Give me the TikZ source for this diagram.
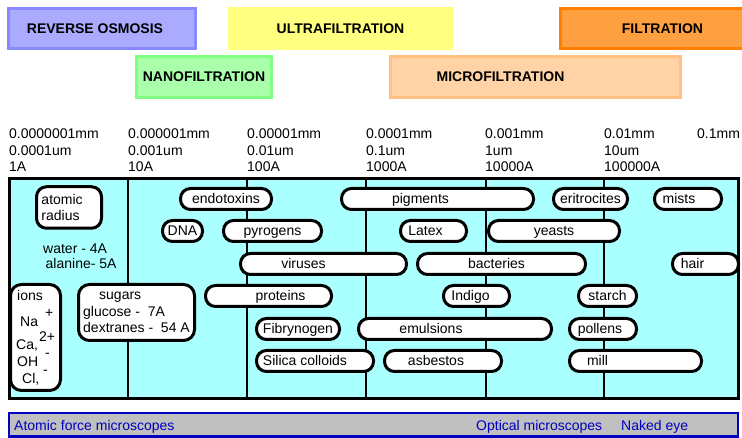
\documentclass[tikz,border=0pt]{standalone}
\usepackage{fontspec}
\setmainfont{Liberation Sans}
\usepackage{xcolor}
\usetikzlibrary{positioning}
\definecolor{chartcyan}{RGB}{170,255,255}
\definecolor{rofill}{RGB}{170,170,255}
\definecolor{roline}{RGB}{136,136,255}
\definecolor{ufyellow}{RGB}{255,255,128}
\definecolor{nffill}{RGB}{170,255,170}
\definecolor{nfline}{RGB}{128,255,128}
\definecolor{mffill}{RGB}{255,211,165}
\definecolor{mfline}{RGB}{255,192,128}
\definecolor{ffill}{RGB}{255,160,64}
\definecolor{fline}{RGB}{255,128,0}
\definecolor{bargray}{RGB}{192,192,192}
\definecolor{barblue}{RGB}{0,0,192}
\tikzset{
	pill/.style = {draw, fill = white, line width = 3pt, rounded corners = 10pt, minimum height = 21pt, inner sep = 0pt, text height = 12.5pt, text depth = 2.5pt},
	roundbox/.style = {draw, fill = white, line width = 3pt, rounded corners = 11pt, inner ysep = 0pt, align = left},
	band/.style = {line width = 3pt, inner sep = 0pt, font = \fontsize{14}{16.5}\selectfont\bfseries},
	divider/.style = {line width = 2.8pt},
	every label/.style = {inner sep = 0pt, text height = 12.5pt, text depth = 2.5pt},
}

\begin{document}
\begin{tikzpicture}[x = 1pt, y = -1pt, font = \fontsize{14}{16.5}\selectfont]
		\useasboundingbox (0, 0) rectangle (742, 438);

		% separation processes
		\node [band, draw = roline, fill = rofill, minimum width = 187, minimum height = 40, label = {[xshift = -7pt, text height = , text depth = , font = \fontsize{14}{16.5}\selectfont\bfseries]center:REVERSE OSMOSIS}] (ro) at (102, 28.5) {};
		\node [band, draw = ufyellow, fill = ufyellow, minimum width = 222, minimum height = 40] (uf) at (340.5, 28.5) {ULTRAFILTRATION};
		\node [band, draw = fline, fill = ffill, minimum width = 204, minimum height = 40] (ff) at (662.5, 28.5) {FILTRATION};
		\node [band, draw = nfline, fill = nffill, minimum width = 135, minimum height = 41] (nf) at (204, 77) {NANOFILTRATION};
		\node [band, draw = mfline, fill = mffill, minimum width = 290, minimum height = 41, label = {[xshift = -35pt, text height = , text depth = , font = \fontsize{14}{16.5}\selectfont\bfseries]center:MICROFILTRATION}] (mf) at (535.5, 77) {};

		% size scale
		\foreach \x/\mm/\um/\ang [count = \i] in {9/0.0000001mm/0.0001um/1A, 128/0.000001mm/0.001um/10A, 247/0.00001mm/0.01um/100A, 366/0.0001mm/0.1um/1000A, 485/0.001mm/1um/10000A, 604/0.01mm/10um/100000A, 697/0.1mm//} {
			\node [anchor = base west, inner sep = 0pt] (mm\i) at (\x, 139) {\mm};
			\node [anchor = base west, inner sep = 0pt] (um\i) at (\x, 155.5) {\um};
			\node [anchor = base west, inner sep = 0pt] (ang\i) at (\x, 172) {\ang};
		}

		% chart
		\node [draw, fill = chartcyan, line width = 3pt, minimum width = 729.5, minimum height = 220, inner sep = 0pt] (chart) at (373.75, 288.5) {};
		\foreach \x in {128, 247, 366, 486, 604}
			\draw [divider] (chart.north -| \x, 0) -- (chart.south -| \x, 0);

		\node [roundbox, rounded corners = 10pt, minimum height = 41.5, inner xsep = 5pt, text width = 55pt] (atom) at (69, 207.5) {atomic\\radius};
		\node [anchor = base west, inner sep = 0pt] (water) at (43, 254) {water - 4A};
		\node [anchor = base west, inner sep = 0pt] (alanine) at (45.5, 269) {alanine- 5A};

		\node [roundbox, minimum width = 50, minimum height = 106, inner sep = 0pt] (ions) at (35.5, 337.5) {};
		\node [anchor = base west, inner sep = 0pt] (ionslbl) at (17, 301) {ions};
		\node [anchor = base west, inner sep = 0pt] (na) at (20, 326.5) {Na};
		\node [anchor = base west, inner sep = 0pt] (naq) at (45, 317.5) {+};
		\node [anchor = base west, inner sep = 0pt] (ca) at (16, 350) {Ca,};
		\node [anchor = base west, inner sep = 0pt] (caq) at (39, 341.5) {2+};
		\node [anchor = base west, inner sep = 0pt] (oh) at (17, 366.5) {OH};
		\node [anchor = base west, inner sep = 0pt] (ohq) at (45, 357.5) {-};
		\node [anchor = base west, inner sep = 0pt] (cl) at (22, 383.5) {Cl,};
		\node [anchor = base west, inner sep = 0pt] (clq) at (43, 374) {-};

		\node [roundbox, minimum width = 116, minimum height = 56, inner xsep = 2pt] (sugars) at (136.5, 312.5) {\hspace*{16pt}sugars\\glucose - \ 7A\\dextranes - \ 54 A};

		% row 1
		\node [pill, minimum width = 91] (endotoxins) at (226, 199) {endotoxins};
		\node [pill, minimum width = 192, label = {[xshift = -17pt]center:pigments}] (pigments) at (437.5, 199) {};
		\node [pill, minimum width = 74] (eritrocites) at (590.5, 199) {eritrocites};
		\node [pill, minimum width = 67, label = {[xshift = -9pt]center:mists}] (mists) at (688, 199) {};
		% row 2
		\node [pill, minimum width = 40] (dna) at (182.5, 231) {DNA};
		\node [pill, minimum width = 98] (pyrogens) at (272.5, 231) {pyrogens};
		\node [pill, minimum width = 66, label = {[xshift = -8pt]center:Latex}] (latex) at (433.5, 231) {};
		\node [pill, minimum width = 131] (yeasts) at (554, 231) {yeasts};
		% row 3
		\node [pill, minimum width = 166, label = {[xshift = -20pt]center:viruses}] (viruses) at (323.5, 264) {};
		\node [pill, minimum width = 168, label = {[xshift = -5pt]center:bacteries}] (bacteries) at (501.5, 264) {};
		\node [pill, minimum width = 66, label = {[xshift = -13pt]center:hair}] (hair) at (705.5, 264) {};
		% row 4
		\node [pill, minimum width = 126, label = {[xshift = 12pt]center:proteins}] (proteins) at (268.5, 296) {};
		\node [pill, minimum width = 66, label = {[xshift = -6pt]center:Indigo}] (indigo) at (476.5, 296) {};
		\node [pill, minimum width = 58] (starch) at (607.5, 296) {starch};
		% row 5
		\node [pill, minimum width = 83] (fibrynogen) at (298, 329) {Fibrynogen};
		\node [pill, minimum width = 193, label = {[xshift = -24pt]center:emulsions}] (emulsions) at (455, 329) {};
		\node [pill, minimum width = 67, label = {[xshift = -3pt]center:pollens}] (pollens) at (603, 329) {};
		% row 6
		\node [pill, minimum width = 117, label = {[xshift = -10pt]center:Silica colloids}] (silica) at (315, 361) {};
		\node [pill, minimum width = 117, label = {[xshift = -7pt]center:asbestos}] (asbestos) at (443, 361) {};
		\node [pill, minimum width = 132, label = {[xshift = -38pt]center:mill}] (mill) at (635.5, 361) {};

		% microscopes
		\node [draw = barblue, fill = bargray, line width = 2.5pt, minimum width = 729, minimum height = 23.5, inner sep = 0pt] (scopes) at (373.5, 424.75) {};
		\node [anchor = base west, inner sep = 0pt, text = barblue] (afm) at (14, 431) {Atomic force microscopes};
		\node [anchor = base west, inner sep = 0pt, text = barblue] (optical) at (476, 431) {Optical microscopes};
		\node [anchor = base west, inner sep = 0pt, text = barblue] (eye) at (621, 431) {Naked eye};
	\end{tikzpicture}
\end{document}
